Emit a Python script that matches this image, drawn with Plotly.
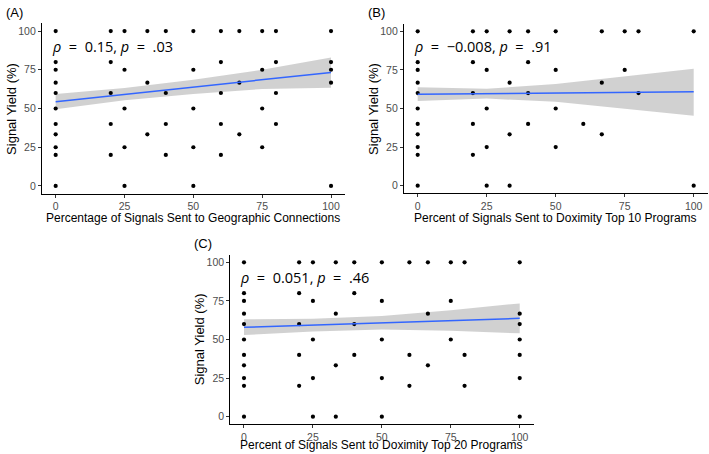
import plotly.graph_objects as go

# ---- data ----
# Panel A: geographic connections
a_x = [0]*11 + [20]*5 + [25]*5 + [33.3]*3 + [40]*4 + [50]*5 + [60]*5 + [66.7]*3 + [75]*4 + [80]*4 + [100]*5
a_y = [100, 80, 75, 66.7, 60, 50, 40, 33.3, 25, 20, 0,
       100, 80, 60, 40, 20,
       100, 75, 50, 25, 0,
       100, 66.7, 33.3,
       100, 60, 40, 20,
       100, 75, 50, 25, 0,
       100, 80, 60, 40, 20,
       100, 66.7, 33.3,
       100, 75, 50, 25,
       100, 80, 60, 40,
       100, 80, 75, 66.7, 0]

# Panel B: Doximity top 10
b_x = [0]*11 + [20]*5 + [25]*5 + [33.3]*4 + [40]*4 + [50]*4 + [60] + [66.7]*3 + [75]*2 + [80]*2 + [100]*2
b_y = [100, 80, 75, 66.7, 60, 50, 40, 33.3, 25, 20, 0,
       100, 80, 60, 40, 20,
       100, 75, 50, 25, 0,
       100, 66.7, 33.3, 0,
       100, 80, 60, 40,
       100, 75, 50, 25,
       40,
       100, 66.7, 33.3,
       100, 75,
       100, 60,
       100, 0]

# Panel C: Doximity top 20
c_x = [0]*11 + [20]*5 + [25]*5 + [33.3]*4 + [40]*4 + [50]*5 + [60]*3 + [66.7]*3 + [75]*3 + [80]*3 + [100]*7
c_y = [100, 80, 75, 66.7, 60, 50, 40, 33.3, 25, 20, 0,
       100, 80, 60, 40, 20,
       100, 75, 50, 25, 0,
       100, 66.7, 33.3, 0,
       100, 80, 60, 40,
       100, 75, 50, 25, 0,
       100, 40, 20,
       100, 66.7, 33.3,
       100, 75, 50,
       100, 40, 20,
       100, 66.7, 60, 50, 40, 25, 0]

# fitted lines and confidence bands
fit_x = [0, 25, 50, 75, 100]
a_fit = [54.4, 59.2, 63.9, 68.6, 73.3]
a_lo = [49.5, 55.3, 59.3, 62.6, 63.4]
a_hi = [59.3, 63.3, 68.6, 75.0, 83.0]

b_fit = [59.2, 59.6, 60.0, 60.5, 60.9]
b_lo = [54.9, 56.4, 54.3, 50.0, 45.3]
b_hi = [63.7, 62.8, 65.8, 71.0, 75.8]

c_fit = [57.9, 59.3, 60.8, 62.2, 63.7]
c_lo = [52.9, 55.2, 56.4, 55.6, 54.0]
c_hi = [63.1, 63.5, 65.3, 68.9, 73.4]

labels = ["(A)", "(B)", "(C)"]
eq = "\u00a0 = \u00a0"
stats = [f"<i>ρ</i>{eq}0.15, <i>p</i>{eq}.03",
         f"<i>ρ</i>{eq}\u22120.008, <i>p</i>{eq}.91",
         f"<i>ρ</i>{eq}0.051, <i>p</i>{eq}.46"]
x_titles = ["Percentage of Signals Sent to Geographic Connections",
            "Percent of Signals Sent to Doximity Top 10 Programs",
            "Percent of Signals Sent to Doximity Top 20 Programs"]
tick_vals = [0, 25, 50, 75, 100]

W, H = 709, 454
# plot boxes in pixels: left, right, top, bottom
boxes = [(41.9, 344.8, 23.3, 193.7),
         (403.9, 707.5, 23.6, 193.4),
         (230.2, 533.5, 254.6, 424.4)]

panels = [(a_x, a_y, a_fit, a_lo, a_hi),
          (b_x, b_y, b_fit, b_lo, b_hi),
          (c_x, c_y, c_fit, c_lo, c_hi)]

fig = go.Figure()
layout = {}
annots = []
for i, (px, py, fit, lo, hi) in enumerate(panels):
    sfx = "" if i == 0 else str(i + 1)
    xa, ya = "x" + sfx, "y" + sfx
    fig.add_trace(go.Scatter(x=fit_x + fit_x[::-1], y=hi + lo[::-1], fill="toself",
                             fillcolor="rgba(153,153,153,0.45)", line=dict(width=0),
                             mode="lines", hoverinfo="skip", xaxis=xa, yaxis=ya))
    fig.add_trace(go.Scatter(x=px, y=py, mode="markers",
                             marker=dict(color="black", size=4.2), xaxis=xa, yaxis=ya))
    fig.add_trace(go.Scatter(x=fit_x, y=fit, mode="lines",
                             line=dict(color="#3366FF", width=1.5), xaxis=xa, yaxis=ya))

    l, r, t, b = boxes[i]
    axis_common = dict(showgrid=False, zeroline=False, showline=True, linecolor="black",
                       linewidth=1, ticks="outside", ticklen=3, tickcolor="#333333",
                       tickvals=tick_vals, range=[-5, 105],
                       tickfont=dict(family="Liberation Sans, Arial", size=10.5, color="#4D4D4D"))
    layout["xaxis" + sfx] = dict(axis_common, domain=[l / W, r / W], anchor=ya)
    layout["yaxis" + sfx] = dict(axis_common, domain=[1 - b / H, 1 - t / H], anchor=xa)

    annots.append(dict(text=labels[i], xref="paper", yref="paper", x=(l - 38) / W,
                       y=1 - (t - 11) / H, xanchor="left", yanchor="middle", showarrow=False,
                       font=dict(family="Liberation Sans, Arial", size=13, color="black")))
    annots.append(dict(text=stats[i], xref=xa, yref=ya, x=-2, y=90, xanchor="left",
                       yanchor="middle", showarrow=False,
                       font=dict(family="Open Sans", size=14.5, color="black")))
    if i < 2:
        annots.append(dict(text=x_titles[i], xref="paper", yref="paper", x=(l + r) / 2 / W,
                           y=1 - (b + 24.5) / H, xanchor="center", yanchor="middle",
                           showarrow=False,
                           font=dict(family="Liberation Sans, Arial", size=12, color="black")))
    else:
        # bottom panel: sit the title on the page's lower edge
        annots.append(dict(text=x_titles[i], xref="paper", yref="paper", x=(l + r) / 2 / W,
                           y=0, xanchor="center", yanchor="bottom", showarrow=False,
                           font=dict(family="Liberation Sans, Arial", size=12, color="black")))
    annots.append(dict(text="Signal Yield (%)", xref="paper", yref="paper", x=(l - 30.5) / W,
                       y=1 - (t + b) / 2 / H, xanchor="center", yanchor="middle", showarrow=False,
                       textangle=-90,
                       font=dict(family="Liberation Sans, Arial", size=13, color="black")))

fig.update_layout(**layout)
fig.update_layout(width=W, height=H, margin=dict(l=0, r=0, t=0, b=0),
                  plot_bgcolor="white", paper_bgcolor="white", showlegend=False,
                  annotations=annots)

# the page body has a default 8px margin; drop it so the figure fills the window
fig.write_html("out.html", config={"displayModeBar": False},
               post_script="document.body.style.margin='0';")
